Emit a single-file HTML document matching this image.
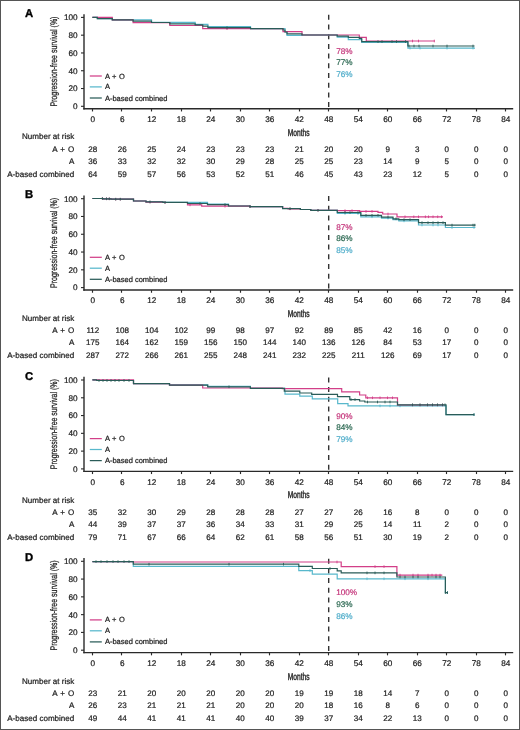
<!DOCTYPE html>
<html><head><meta charset="utf-8"><style>
html,body{margin:0;padding:0;background:#fff;width:520px;height:730px;overflow:hidden;}
svg{display:block;filter:blur(0.3px);} text{text-rendering:geometricPrecision;} .t{stroke:#222;stroke-width:0.22px;}
</style></head><body>
<svg width="520" height="730" viewBox="0 0 520 730" font-family='"Liberation Sans", sans-serif'>
<rect x="0" y="0" width="520" height="730" fill="#fff"/>
<g transform="translate(0,0)">
<text x="24.9" y="17.1" font-size="11.3" font-weight="bold" fill="#000" stroke="#000" stroke-width="0.35">A</text>
<text transform="translate(57.3,61.6) rotate(-90) scale(0.728,1)" text-anchor="middle" font-size="9.6" fill="#222" stroke="#222" stroke-width="0.25">Progression-free survival (%)</text>
<line x1="84" y1="14.2" x2="84" y2="109.45" stroke="#2a2a2a" stroke-width="1.4"/>
<line x1="81" y1="17.40" x2="84" y2="17.40" stroke="#2a2a2a" stroke-width="1.1"/>
<text x="77.6" y="20.30" text-anchor="end" font-size="8.2" class="t" fill="#222">100</text>
<line x1="81" y1="35.18" x2="84" y2="35.18" stroke="#2a2a2a" stroke-width="1.1"/>
<text x="77.6" y="38.08" text-anchor="end" font-size="8.2" class="t" fill="#222">80</text>
<line x1="81" y1="52.96" x2="84" y2="52.96" stroke="#2a2a2a" stroke-width="1.1"/>
<text x="77.6" y="55.86" text-anchor="end" font-size="8.2" class="t" fill="#222">60</text>
<line x1="81" y1="70.74" x2="84" y2="70.74" stroke="#2a2a2a" stroke-width="1.1"/>
<text x="77.6" y="73.64" text-anchor="end" font-size="8.2" class="t" fill="#222">40</text>
<line x1="81" y1="88.52" x2="84" y2="88.52" stroke="#2a2a2a" stroke-width="1.1"/>
<text x="77.6" y="91.42" text-anchor="end" font-size="8.2" class="t" fill="#222">20</text>
<line x1="81" y1="106.30" x2="84" y2="106.30" stroke="#2a2a2a" stroke-width="1.1"/>
<text x="77.6" y="109.20" text-anchor="end" font-size="8.2" class="t" fill="#222">0</text>
<line x1="83.3" y1="108.75" x2="513.2" y2="108.75" stroke="#2a2a2a" stroke-width="1.4"/>
<line x1="92.50" y1="108.75" x2="92.50" y2="111.45" stroke="#2a2a2a" stroke-width="1.15"/>
<text x="92.80" y="122.0" text-anchor="middle" font-size="8.2" class="t" fill="#222">0</text>
<line x1="121.50" y1="108.75" x2="121.50" y2="111.45" stroke="#2a2a2a" stroke-width="1.15"/>
<text x="122.29" y="122.0" text-anchor="middle" font-size="8.2" class="t" fill="#222">6</text>
<line x1="151.50" y1="108.75" x2="151.50" y2="111.45" stroke="#2a2a2a" stroke-width="1.15"/>
<text x="151.79" y="122.0" text-anchor="middle" font-size="8.2" class="t" fill="#222">12</text>
<line x1="181.50" y1="108.75" x2="181.50" y2="111.45" stroke="#2a2a2a" stroke-width="1.15"/>
<text x="181.28" y="122.0" text-anchor="middle" font-size="8.2" class="t" fill="#222">18</text>
<line x1="210.50" y1="108.75" x2="210.50" y2="111.45" stroke="#2a2a2a" stroke-width="1.15"/>
<text x="210.78" y="122.0" text-anchor="middle" font-size="8.2" class="t" fill="#222">24</text>
<line x1="240.50" y1="108.75" x2="240.50" y2="111.45" stroke="#2a2a2a" stroke-width="1.15"/>
<text x="240.27" y="122.0" text-anchor="middle" font-size="8.2" class="t" fill="#222">30</text>
<line x1="269.50" y1="108.75" x2="269.50" y2="111.45" stroke="#2a2a2a" stroke-width="1.15"/>
<text x="269.76" y="122.0" text-anchor="middle" font-size="8.2" class="t" fill="#222">36</text>
<line x1="299.50" y1="108.75" x2="299.50" y2="111.45" stroke="#2a2a2a" stroke-width="1.15"/>
<text x="299.26" y="122.0" text-anchor="middle" font-size="8.2" class="t" fill="#222">42</text>
<line x1="328.50" y1="108.75" x2="328.50" y2="111.45" stroke="#2a2a2a" stroke-width="1.15"/>
<text x="328.75" y="122.0" text-anchor="middle" font-size="8.2" class="t" fill="#222">48</text>
<line x1="358.50" y1="108.75" x2="358.50" y2="111.45" stroke="#2a2a2a" stroke-width="1.15"/>
<text x="358.25" y="122.0" text-anchor="middle" font-size="8.2" class="t" fill="#222">54</text>
<line x1="387.50" y1="108.75" x2="387.50" y2="111.45" stroke="#2a2a2a" stroke-width="1.15"/>
<text x="387.74" y="122.0" text-anchor="middle" font-size="8.2" class="t" fill="#222">60</text>
<line x1="417.50" y1="108.75" x2="417.50" y2="111.45" stroke="#2a2a2a" stroke-width="1.15"/>
<text x="417.23" y="122.0" text-anchor="middle" font-size="8.2" class="t" fill="#222">66</text>
<line x1="446.50" y1="108.75" x2="446.50" y2="111.45" stroke="#2a2a2a" stroke-width="1.15"/>
<text x="446.73" y="122.0" text-anchor="middle" font-size="8.2" class="t" fill="#222">72</text>
<line x1="476.50" y1="108.75" x2="476.50" y2="111.45" stroke="#2a2a2a" stroke-width="1.15"/>
<text x="476.22" y="122.0" text-anchor="middle" font-size="8.2" class="t" fill="#222">78</text>
<line x1="505.50" y1="108.75" x2="505.50" y2="111.45" stroke="#2a2a2a" stroke-width="1.15"/>
<text x="505.72" y="122.0" text-anchor="middle" font-size="8.2" class="t" fill="#222">84</text>
<text transform="translate(298.6,135.8) scale(0.665,1)" text-anchor="middle" font-size="10" fill="#222" stroke="#222" stroke-width="0.4">Months</text>
<line x1="328.69" y1="14.8" x2="328.69" y2="108.75" stroke="#333" stroke-width="1.4" stroke-dasharray="5 4.7"/>
<line x1="89.8" y1="76.0" x2="101.8" y2="76.0" stroke="#d23f88" stroke-width="1.25"/>
<text x="104.9" y="78.5" font-size="7.5" class="t" fill="#222" word-spacing="0.5">A + O</text>
<line x1="89.8" y1="86.9" x2="101.8" y2="86.9" stroke="#58b8cc" stroke-width="1.25"/>
<text x="104.9" y="89.4" font-size="7.5" class="t" fill="#222">A</text>
<line x1="89.8" y1="98.0" x2="101.8" y2="98.0" stroke="#2a5c58" stroke-width="1.25"/>
<text x="104.9" y="100.5" font-size="7.5" class="t" fill="#222">A-based combined</text>
<text x="336.2" y="53.9" font-size="8.2" fill="#c4347a" stroke="#c4347a" stroke-width="0.2">78%</text>
<text x="336.2" y="64.9" font-size="8.2" fill="#28664f" stroke="#28664f" stroke-width="0.2">77%</text>
<text x="336.2" y="76.7" font-size="8.2" fill="#4fadca" stroke="#4fadca" stroke-width="0.2">76%</text>
<path d="M92.4 17.4 H97.3 V18.6 H112.3 V19.8 H151.5 V22.4 H195.2 V24.3 H207.9 V26.6 H250.5 V28.6 H285.0 V32.0 H287.0 V35.3 H302.0 V35.0 H337.2 V37.2 H348.3 V39.6 H361.7 V42.3 H407.9 V48.1 H475.0" fill="none" stroke="#58b8cc" stroke-width="1.2"/>
<path d="M410.0 46.8 v2.6M420.0 46.8 v2.6M447.0 46.8 v2.6M473.0 46.8 v2.6" stroke="#58b8cc" stroke-width="0.9" fill="none"/>
<path d="M92.4 17.4 H112.3 V19.8 H133.1 V22.7 H169.8 V25.5 H202.7 V28.7 H283.0 V31.7 H302.0 V35.0 H359.3 V37.4 H366.3 V41.0 H434.6" fill="none" stroke="#d23f88" stroke-width="1.2"/>
<path d="M227.0 27.4 v2.6M412.5 39.7 v2.6M418.5 39.7 v2.6M434.3 39.7 v2.6" stroke="#d23f88" stroke-width="0.9" fill="none"/>
<path d="M92.4 17.4 H97.3 V18.6 H112.3 V19.8 H133.1 V21.2 H151.5 V22.5 H169.8 V23.8 H195.2 V24.9 H202.7 V26.2 H207.9 V27.7 H250.5 V28.6 H283.0 V30.0 H285.0 V32.0 H287.0 V33.8 H302.0 V35.0 H337.2 V36.2 H348.3 V37.3 H359.3 V38.4 H361.7 V41.6 H407.9 V46.0 H474.6" fill="none" stroke="#2a5c58" stroke-width="1.2"/>
<path d="M227.0 26.4 v2.6M378.0 40.3 v2.6M382.0 40.3 v2.6M392.0 40.3 v2.6M396.5 40.3 v2.6M405.5 40.3 v2.6M409.0 44.7 v2.6M414.0 44.7 v2.6M419.0 44.7 v2.6M433.0 44.7 v2.6M447.0 44.7 v2.6M473.0 44.7 v2.6" stroke="#2a5c58" stroke-width="0.9" fill="none"/>
</g>
<g transform="translate(0,0)">
<text x="74.3" y="139.3" text-anchor="end" font-size="8.05" class="t" fill="#222">Number at risk</text>
<text x="74.3" y="151.6" text-anchor="end" font-size="8.05" class="t" fill="#222" word-spacing="0.8">A + O</text>
<text x="92.80" y="151.6" text-anchor="middle" font-size="8.05" class="t" fill="#222">28</text>
<text x="122.29" y="151.6" text-anchor="middle" font-size="8.05" class="t" fill="#222">26</text>
<text x="151.79" y="151.6" text-anchor="middle" font-size="8.05" class="t" fill="#222">25</text>
<text x="181.28" y="151.6" text-anchor="middle" font-size="8.05" class="t" fill="#222">24</text>
<text x="210.78" y="151.6" text-anchor="middle" font-size="8.05" class="t" fill="#222">23</text>
<text x="240.27" y="151.6" text-anchor="middle" font-size="8.05" class="t" fill="#222">23</text>
<text x="269.76" y="151.6" text-anchor="middle" font-size="8.05" class="t" fill="#222">23</text>
<text x="299.26" y="151.6" text-anchor="middle" font-size="8.05" class="t" fill="#222">21</text>
<text x="328.75" y="151.6" text-anchor="middle" font-size="8.05" class="t" fill="#222">20</text>
<text x="358.25" y="151.6" text-anchor="middle" font-size="8.05" class="t" fill="#222">20</text>
<text x="387.74" y="151.6" text-anchor="middle" font-size="8.05" class="t" fill="#222">9</text>
<text x="417.23" y="151.6" text-anchor="middle" font-size="8.05" class="t" fill="#222">3</text>
<text x="446.73" y="151.6" text-anchor="middle" font-size="8.05" class="t" fill="#222">0</text>
<text x="476.22" y="151.6" text-anchor="middle" font-size="8.05" class="t" fill="#222">0</text>
<text x="505.72" y="151.6" text-anchor="middle" font-size="8.05" class="t" fill="#222">0</text>
<text x="74.3" y="164.0" text-anchor="end" font-size="8.05" class="t" fill="#222">A</text>
<text x="92.80" y="164.0" text-anchor="middle" font-size="8.05" class="t" fill="#222">36</text>
<text x="122.29" y="164.0" text-anchor="middle" font-size="8.05" class="t" fill="#222">33</text>
<text x="151.79" y="164.0" text-anchor="middle" font-size="8.05" class="t" fill="#222">32</text>
<text x="181.28" y="164.0" text-anchor="middle" font-size="8.05" class="t" fill="#222">32</text>
<text x="210.78" y="164.0" text-anchor="middle" font-size="8.05" class="t" fill="#222">30</text>
<text x="240.27" y="164.0" text-anchor="middle" font-size="8.05" class="t" fill="#222">29</text>
<text x="269.76" y="164.0" text-anchor="middle" font-size="8.05" class="t" fill="#222">28</text>
<text x="299.26" y="164.0" text-anchor="middle" font-size="8.05" class="t" fill="#222">25</text>
<text x="328.75" y="164.0" text-anchor="middle" font-size="8.05" class="t" fill="#222">25</text>
<text x="358.25" y="164.0" text-anchor="middle" font-size="8.05" class="t" fill="#222">23</text>
<text x="387.74" y="164.0" text-anchor="middle" font-size="8.05" class="t" fill="#222">14</text>
<text x="417.23" y="164.0" text-anchor="middle" font-size="8.05" class="t" fill="#222">9</text>
<text x="446.73" y="164.0" text-anchor="middle" font-size="8.05" class="t" fill="#222">5</text>
<text x="476.22" y="164.0" text-anchor="middle" font-size="8.05" class="t" fill="#222">0</text>
<text x="505.72" y="164.0" text-anchor="middle" font-size="8.05" class="t" fill="#222">0</text>
<text x="74.3" y="176.5" text-anchor="end" font-size="8.05" class="t" fill="#222">A-based combined</text>
<text x="92.80" y="176.5" text-anchor="middle" font-size="8.05" class="t" fill="#222">64</text>
<text x="122.29" y="176.5" text-anchor="middle" font-size="8.05" class="t" fill="#222">59</text>
<text x="151.79" y="176.5" text-anchor="middle" font-size="8.05" class="t" fill="#222">57</text>
<text x="181.28" y="176.5" text-anchor="middle" font-size="8.05" class="t" fill="#222">56</text>
<text x="210.78" y="176.5" text-anchor="middle" font-size="8.05" class="t" fill="#222">53</text>
<text x="240.27" y="176.5" text-anchor="middle" font-size="8.05" class="t" fill="#222">52</text>
<text x="269.76" y="176.5" text-anchor="middle" font-size="8.05" class="t" fill="#222">51</text>
<text x="299.26" y="176.5" text-anchor="middle" font-size="8.05" class="t" fill="#222">46</text>
<text x="328.75" y="176.5" text-anchor="middle" font-size="8.05" class="t" fill="#222">45</text>
<text x="358.25" y="176.5" text-anchor="middle" font-size="8.05" class="t" fill="#222">43</text>
<text x="387.74" y="176.5" text-anchor="middle" font-size="8.05" class="t" fill="#222">23</text>
<text x="417.23" y="176.5" text-anchor="middle" font-size="8.05" class="t" fill="#222">12</text>
<text x="446.73" y="176.5" text-anchor="middle" font-size="8.05" class="t" fill="#222">5</text>
<text x="476.22" y="176.5" text-anchor="middle" font-size="8.05" class="t" fill="#222">0</text>
<text x="505.72" y="176.5" text-anchor="middle" font-size="8.05" class="t" fill="#222">0</text>
</g>
<g transform="translate(0,181.3)">
<text x="24.9" y="17.1" font-size="11.3" font-weight="bold" fill="#000" stroke="#000" stroke-width="0.35">B</text>
<text transform="translate(57.3,61.6) rotate(-90) scale(0.728,1)" text-anchor="middle" font-size="9.6" fill="#222" stroke="#222" stroke-width="0.25">Progression-free survival (%)</text>
<line x1="84" y1="14.2" x2="84" y2="109.45" stroke="#2a2a2a" stroke-width="1.4"/>
<line x1="81" y1="17.40" x2="84" y2="17.40" stroke="#2a2a2a" stroke-width="1.1"/>
<text x="77.6" y="20.30" text-anchor="end" font-size="8.2" class="t" fill="#222">100</text>
<line x1="81" y1="35.18" x2="84" y2="35.18" stroke="#2a2a2a" stroke-width="1.1"/>
<text x="77.6" y="38.08" text-anchor="end" font-size="8.2" class="t" fill="#222">80</text>
<line x1="81" y1="52.96" x2="84" y2="52.96" stroke="#2a2a2a" stroke-width="1.1"/>
<text x="77.6" y="55.86" text-anchor="end" font-size="8.2" class="t" fill="#222">60</text>
<line x1="81" y1="70.74" x2="84" y2="70.74" stroke="#2a2a2a" stroke-width="1.1"/>
<text x="77.6" y="73.64" text-anchor="end" font-size="8.2" class="t" fill="#222">40</text>
<line x1="81" y1="88.52" x2="84" y2="88.52" stroke="#2a2a2a" stroke-width="1.1"/>
<text x="77.6" y="91.42" text-anchor="end" font-size="8.2" class="t" fill="#222">20</text>
<line x1="81" y1="106.30" x2="84" y2="106.30" stroke="#2a2a2a" stroke-width="1.1"/>
<text x="77.6" y="109.20" text-anchor="end" font-size="8.2" class="t" fill="#222">0</text>
<line x1="83.3" y1="108.75" x2="513.2" y2="108.75" stroke="#2a2a2a" stroke-width="1.4"/>
<line x1="92.50" y1="108.75" x2="92.50" y2="111.45" stroke="#2a2a2a" stroke-width="1.15"/>
<text x="92.80" y="122.0" text-anchor="middle" font-size="8.2" class="t" fill="#222">0</text>
<line x1="121.50" y1="108.75" x2="121.50" y2="111.45" stroke="#2a2a2a" stroke-width="1.15"/>
<text x="122.29" y="122.0" text-anchor="middle" font-size="8.2" class="t" fill="#222">6</text>
<line x1="151.50" y1="108.75" x2="151.50" y2="111.45" stroke="#2a2a2a" stroke-width="1.15"/>
<text x="151.79" y="122.0" text-anchor="middle" font-size="8.2" class="t" fill="#222">12</text>
<line x1="181.50" y1="108.75" x2="181.50" y2="111.45" stroke="#2a2a2a" stroke-width="1.15"/>
<text x="181.28" y="122.0" text-anchor="middle" font-size="8.2" class="t" fill="#222">18</text>
<line x1="210.50" y1="108.75" x2="210.50" y2="111.45" stroke="#2a2a2a" stroke-width="1.15"/>
<text x="210.78" y="122.0" text-anchor="middle" font-size="8.2" class="t" fill="#222">24</text>
<line x1="240.50" y1="108.75" x2="240.50" y2="111.45" stroke="#2a2a2a" stroke-width="1.15"/>
<text x="240.27" y="122.0" text-anchor="middle" font-size="8.2" class="t" fill="#222">30</text>
<line x1="269.50" y1="108.75" x2="269.50" y2="111.45" stroke="#2a2a2a" stroke-width="1.15"/>
<text x="269.76" y="122.0" text-anchor="middle" font-size="8.2" class="t" fill="#222">36</text>
<line x1="299.50" y1="108.75" x2="299.50" y2="111.45" stroke="#2a2a2a" stroke-width="1.15"/>
<text x="299.26" y="122.0" text-anchor="middle" font-size="8.2" class="t" fill="#222">42</text>
<line x1="328.50" y1="108.75" x2="328.50" y2="111.45" stroke="#2a2a2a" stroke-width="1.15"/>
<text x="328.75" y="122.0" text-anchor="middle" font-size="8.2" class="t" fill="#222">48</text>
<line x1="358.50" y1="108.75" x2="358.50" y2="111.45" stroke="#2a2a2a" stroke-width="1.15"/>
<text x="358.25" y="122.0" text-anchor="middle" font-size="8.2" class="t" fill="#222">54</text>
<line x1="387.50" y1="108.75" x2="387.50" y2="111.45" stroke="#2a2a2a" stroke-width="1.15"/>
<text x="387.74" y="122.0" text-anchor="middle" font-size="8.2" class="t" fill="#222">60</text>
<line x1="417.50" y1="108.75" x2="417.50" y2="111.45" stroke="#2a2a2a" stroke-width="1.15"/>
<text x="417.23" y="122.0" text-anchor="middle" font-size="8.2" class="t" fill="#222">66</text>
<line x1="446.50" y1="108.75" x2="446.50" y2="111.45" stroke="#2a2a2a" stroke-width="1.15"/>
<text x="446.73" y="122.0" text-anchor="middle" font-size="8.2" class="t" fill="#222">72</text>
<line x1="476.50" y1="108.75" x2="476.50" y2="111.45" stroke="#2a2a2a" stroke-width="1.15"/>
<text x="476.22" y="122.0" text-anchor="middle" font-size="8.2" class="t" fill="#222">78</text>
<line x1="505.50" y1="108.75" x2="505.50" y2="111.45" stroke="#2a2a2a" stroke-width="1.15"/>
<text x="505.72" y="122.0" text-anchor="middle" font-size="8.2" class="t" fill="#222">84</text>
<text transform="translate(298.6,135.8) scale(0.665,1)" text-anchor="middle" font-size="10" fill="#222" stroke="#222" stroke-width="0.4">Months</text>
<line x1="328.69" y1="14.8" x2="328.69" y2="108.75" stroke="#333" stroke-width="1.4" stroke-dasharray="5 4.7"/>
<line x1="89.8" y1="76.0" x2="101.8" y2="76.0" stroke="#d23f88" stroke-width="1.25"/>
<text x="104.9" y="78.5" font-size="7.5" class="t" fill="#222" word-spacing="0.5">A + O</text>
<line x1="89.8" y1="86.9" x2="101.8" y2="86.9" stroke="#58b8cc" stroke-width="1.25"/>
<text x="104.9" y="89.4" font-size="7.5" class="t" fill="#222">A</text>
<line x1="89.8" y1="98.0" x2="101.8" y2="98.0" stroke="#2a5c58" stroke-width="1.25"/>
<text x="104.9" y="100.5" font-size="7.5" class="t" fill="#222">A-based combined</text>
<text x="336.2" y="48.5" font-size="8.2" fill="#c4347a" stroke="#c4347a" stroke-width="0.2">87%</text>
<text x="336.2" y="59.7" font-size="8.2" fill="#28664f" stroke="#28664f" stroke-width="0.2">86%</text>
<text x="336.2" y="71.6" font-size="8.2" fill="#4fadca" stroke="#4fadca" stroke-width="0.2">85%</text>
<path d="M92.4 17.2 H103.0 V17.5 H111.0 V17.9 H133.5 V19.7 H146.0 V20.5 H163.0 V21.0 H207.5 V22.9 H228.5 V24.7 H250.0 V25.4 H282.6 V27.2 H300.4 V28.2 H310.8 V29.0 H337.3 V32.1 H360.8 V35.5 H381.5 V36.8 H393.0 V38.4 H398.8 V39.6 H418.5 V43.7 H445.4 V46.2 H475.4" fill="none" stroke="#58b8cc" stroke-width="1.2"/>
<path d="M345.0 30.8 v2.6M358.0 30.8 v2.6M372.0 34.2 v2.6M388.0 35.5 v2.6M404.0 38.3 v2.6M422.0 42.4 v2.6M433.0 42.4 v2.6M438.0 42.4 v2.6M452.0 44.9 v2.6M474.0 44.9 v2.6" stroke="#58b8cc" stroke-width="0.9" fill="none"/>
<path d="M92.4 17.2 H103.0 V17.5 H111.0 V17.9 H133.5 V19.7 H146.0 V20.8 H163.0 V21.2 H187.5 V23.6 H201.7 V24.9 H250.0 V25.4 H282.6 V27.0 H288.0 V27.5 H300.4 V28.2 H310.8 V29.0 H337.3 V29.4 H359.6 V30.1 H378.0 V31.1 H382.7 V32.7 H397.0 V35.5 H443.0" fill="none" stroke="#d23f88" stroke-width="1.2"/>
<path d="M102.4 15.9 v2.6M106.5 16.2 v2.6M109.3 16.2 v2.6M115.7 16.6 v2.6M120.3 16.6 v2.6M150.0 19.5 v2.6M165.0 19.9 v2.6M190.0 22.3 v2.6M225.0 23.6 v2.6M250.0 24.1 v2.6M290.0 26.2 v2.6M318.0 27.7 v2.6M345.0 28.1 v2.6M352.0 28.1 v2.6M366.0 28.8 v2.6M372.0 28.8 v2.6M388.0 31.4 v2.6M405.0 34.2 v2.6M413.8 34.2 v2.6M418.5 34.2 v2.6M425.4 34.2 v2.6M428.5 34.2 v2.6M433.0 34.2 v2.6M437.7 34.2 v2.6M441.5 34.2 v2.6" stroke="#d23f88" stroke-width="0.9" fill="none"/>
<path d="M92.4 17.2 H103.0 V17.5 H111.0 V17.9 H133.5 V19.7 H146.0 V20.6 H163.0 V21.1 H187.5 V22.2 H207.5 V23.3 H228.5 V24.7 H250.0 V25.4 H282.6 V27.4 H300.4 V28.2 H310.8 V29.0 H337.3 V31.2 H360.8 V34.0 H381.5 V35.8 H393.0 V37.5 H398.8 V38.4 H418.5 V41.4 H445.4 V43.8 H475.4" fill="none" stroke="#2a5c58" stroke-width="1.2"/>
<path d="M102.4 15.9 v2.6M106.5 16.2 v2.6M109.3 16.2 v2.6M115.7 16.6 v2.6M120.3 16.6 v2.6M150.0 19.3 v2.6M165.0 19.8 v2.6M200.0 20.9 v2.6M225.0 22.0 v2.6M250.0 24.1 v2.6M290.0 26.1 v2.6M318.0 27.7 v2.6M345.0 29.9 v2.6M350.0 29.9 v2.6M358.0 29.9 v2.6M366.0 32.7 v2.6M372.0 32.7 v2.6M378.0 32.7 v2.6M388.0 34.5 v2.6M396.0 36.2 v2.6M404.0 37.1 v2.6M410.0 37.1 v2.6M422.0 40.1 v2.6M428.0 40.1 v2.6M433.0 40.1 v2.6M438.0 40.1 v2.6M443.0 40.1 v2.6M452.0 42.5 v2.6M473.0 42.5 v2.6M474.8 42.5 v2.6" stroke="#2a5c58" stroke-width="0.9" fill="none"/>
</g>
<g transform="translate(0,181.4)">
<text x="74.3" y="139.3" text-anchor="end" font-size="8.05" class="t" fill="#222">Number at risk</text>
<text x="74.3" y="151.6" text-anchor="end" font-size="8.05" class="t" fill="#222" word-spacing="0.8">A + O</text>
<text x="92.80" y="151.6" text-anchor="middle" font-size="8.05" class="t" fill="#222">112</text>
<text x="122.29" y="151.6" text-anchor="middle" font-size="8.05" class="t" fill="#222">108</text>
<text x="151.79" y="151.6" text-anchor="middle" font-size="8.05" class="t" fill="#222">104</text>
<text x="181.28" y="151.6" text-anchor="middle" font-size="8.05" class="t" fill="#222">102</text>
<text x="210.78" y="151.6" text-anchor="middle" font-size="8.05" class="t" fill="#222">99</text>
<text x="240.27" y="151.6" text-anchor="middle" font-size="8.05" class="t" fill="#222">98</text>
<text x="269.76" y="151.6" text-anchor="middle" font-size="8.05" class="t" fill="#222">97</text>
<text x="299.26" y="151.6" text-anchor="middle" font-size="8.05" class="t" fill="#222">92</text>
<text x="328.75" y="151.6" text-anchor="middle" font-size="8.05" class="t" fill="#222">89</text>
<text x="358.25" y="151.6" text-anchor="middle" font-size="8.05" class="t" fill="#222">85</text>
<text x="387.74" y="151.6" text-anchor="middle" font-size="8.05" class="t" fill="#222">42</text>
<text x="417.23" y="151.6" text-anchor="middle" font-size="8.05" class="t" fill="#222">16</text>
<text x="446.73" y="151.6" text-anchor="middle" font-size="8.05" class="t" fill="#222">0</text>
<text x="476.22" y="151.6" text-anchor="middle" font-size="8.05" class="t" fill="#222">0</text>
<text x="505.72" y="151.6" text-anchor="middle" font-size="8.05" class="t" fill="#222">0</text>
<text x="74.3" y="164.0" text-anchor="end" font-size="8.05" class="t" fill="#222">A</text>
<text x="92.80" y="164.0" text-anchor="middle" font-size="8.05" class="t" fill="#222">175</text>
<text x="122.29" y="164.0" text-anchor="middle" font-size="8.05" class="t" fill="#222">164</text>
<text x="151.79" y="164.0" text-anchor="middle" font-size="8.05" class="t" fill="#222">162</text>
<text x="181.28" y="164.0" text-anchor="middle" font-size="8.05" class="t" fill="#222">159</text>
<text x="210.78" y="164.0" text-anchor="middle" font-size="8.05" class="t" fill="#222">156</text>
<text x="240.27" y="164.0" text-anchor="middle" font-size="8.05" class="t" fill="#222">150</text>
<text x="269.76" y="164.0" text-anchor="middle" font-size="8.05" class="t" fill="#222">144</text>
<text x="299.26" y="164.0" text-anchor="middle" font-size="8.05" class="t" fill="#222">140</text>
<text x="328.75" y="164.0" text-anchor="middle" font-size="8.05" class="t" fill="#222">136</text>
<text x="358.25" y="164.0" text-anchor="middle" font-size="8.05" class="t" fill="#222">126</text>
<text x="387.74" y="164.0" text-anchor="middle" font-size="8.05" class="t" fill="#222">84</text>
<text x="417.23" y="164.0" text-anchor="middle" font-size="8.05" class="t" fill="#222">53</text>
<text x="446.73" y="164.0" text-anchor="middle" font-size="8.05" class="t" fill="#222">17</text>
<text x="476.22" y="164.0" text-anchor="middle" font-size="8.05" class="t" fill="#222">0</text>
<text x="505.72" y="164.0" text-anchor="middle" font-size="8.05" class="t" fill="#222">0</text>
<text x="74.3" y="176.5" text-anchor="end" font-size="8.05" class="t" fill="#222">A-based combined</text>
<text x="92.80" y="176.5" text-anchor="middle" font-size="8.05" class="t" fill="#222">287</text>
<text x="122.29" y="176.5" text-anchor="middle" font-size="8.05" class="t" fill="#222">272</text>
<text x="151.79" y="176.5" text-anchor="middle" font-size="8.05" class="t" fill="#222">266</text>
<text x="181.28" y="176.5" text-anchor="middle" font-size="8.05" class="t" fill="#222">261</text>
<text x="210.78" y="176.5" text-anchor="middle" font-size="8.05" class="t" fill="#222">255</text>
<text x="240.27" y="176.5" text-anchor="middle" font-size="8.05" class="t" fill="#222">248</text>
<text x="269.76" y="176.5" text-anchor="middle" font-size="8.05" class="t" fill="#222">241</text>
<text x="299.26" y="176.5" text-anchor="middle" font-size="8.05" class="t" fill="#222">232</text>
<text x="328.75" y="176.5" text-anchor="middle" font-size="8.05" class="t" fill="#222">225</text>
<text x="358.25" y="176.5" text-anchor="middle" font-size="8.05" class="t" fill="#222">211</text>
<text x="387.74" y="176.5" text-anchor="middle" font-size="8.05" class="t" fill="#222">126</text>
<text x="417.23" y="176.5" text-anchor="middle" font-size="8.05" class="t" fill="#222">69</text>
<text x="446.73" y="176.5" text-anchor="middle" font-size="8.05" class="t" fill="#222">17</text>
<text x="476.22" y="176.5" text-anchor="middle" font-size="8.05" class="t" fill="#222">0</text>
<text x="505.72" y="176.5" text-anchor="middle" font-size="8.05" class="t" fill="#222">0</text>
</g>
<g transform="translate(0,362.6)">
<text x="24.9" y="17.1" font-size="11.3" font-weight="bold" fill="#000" stroke="#000" stroke-width="0.35">C</text>
<text transform="translate(57.3,61.6) rotate(-90) scale(0.728,1)" text-anchor="middle" font-size="9.6" fill="#222" stroke="#222" stroke-width="0.25">Progression-free survival (%)</text>
<line x1="84" y1="14.2" x2="84" y2="109.45" stroke="#2a2a2a" stroke-width="1.4"/>
<line x1="81" y1="17.40" x2="84" y2="17.40" stroke="#2a2a2a" stroke-width="1.1"/>
<text x="77.6" y="20.30" text-anchor="end" font-size="8.2" class="t" fill="#222">100</text>
<line x1="81" y1="35.18" x2="84" y2="35.18" stroke="#2a2a2a" stroke-width="1.1"/>
<text x="77.6" y="38.08" text-anchor="end" font-size="8.2" class="t" fill="#222">80</text>
<line x1="81" y1="52.96" x2="84" y2="52.96" stroke="#2a2a2a" stroke-width="1.1"/>
<text x="77.6" y="55.86" text-anchor="end" font-size="8.2" class="t" fill="#222">60</text>
<line x1="81" y1="70.74" x2="84" y2="70.74" stroke="#2a2a2a" stroke-width="1.1"/>
<text x="77.6" y="73.64" text-anchor="end" font-size="8.2" class="t" fill="#222">40</text>
<line x1="81" y1="88.52" x2="84" y2="88.52" stroke="#2a2a2a" stroke-width="1.1"/>
<text x="77.6" y="91.42" text-anchor="end" font-size="8.2" class="t" fill="#222">20</text>
<line x1="81" y1="106.30" x2="84" y2="106.30" stroke="#2a2a2a" stroke-width="1.1"/>
<text x="77.6" y="109.20" text-anchor="end" font-size="8.2" class="t" fill="#222">0</text>
<line x1="83.3" y1="108.75" x2="513.2" y2="108.75" stroke="#2a2a2a" stroke-width="1.4"/>
<line x1="92.50" y1="108.75" x2="92.50" y2="111.45" stroke="#2a2a2a" stroke-width="1.15"/>
<text x="92.80" y="122.0" text-anchor="middle" font-size="8.2" class="t" fill="#222">0</text>
<line x1="121.50" y1="108.75" x2="121.50" y2="111.45" stroke="#2a2a2a" stroke-width="1.15"/>
<text x="122.29" y="122.0" text-anchor="middle" font-size="8.2" class="t" fill="#222">6</text>
<line x1="151.50" y1="108.75" x2="151.50" y2="111.45" stroke="#2a2a2a" stroke-width="1.15"/>
<text x="151.79" y="122.0" text-anchor="middle" font-size="8.2" class="t" fill="#222">12</text>
<line x1="181.50" y1="108.75" x2="181.50" y2="111.45" stroke="#2a2a2a" stroke-width="1.15"/>
<text x="181.28" y="122.0" text-anchor="middle" font-size="8.2" class="t" fill="#222">18</text>
<line x1="210.50" y1="108.75" x2="210.50" y2="111.45" stroke="#2a2a2a" stroke-width="1.15"/>
<text x="210.78" y="122.0" text-anchor="middle" font-size="8.2" class="t" fill="#222">24</text>
<line x1="240.50" y1="108.75" x2="240.50" y2="111.45" stroke="#2a2a2a" stroke-width="1.15"/>
<text x="240.27" y="122.0" text-anchor="middle" font-size="8.2" class="t" fill="#222">30</text>
<line x1="269.50" y1="108.75" x2="269.50" y2="111.45" stroke="#2a2a2a" stroke-width="1.15"/>
<text x="269.76" y="122.0" text-anchor="middle" font-size="8.2" class="t" fill="#222">36</text>
<line x1="299.50" y1="108.75" x2="299.50" y2="111.45" stroke="#2a2a2a" stroke-width="1.15"/>
<text x="299.26" y="122.0" text-anchor="middle" font-size="8.2" class="t" fill="#222">42</text>
<line x1="328.50" y1="108.75" x2="328.50" y2="111.45" stroke="#2a2a2a" stroke-width="1.15"/>
<text x="328.75" y="122.0" text-anchor="middle" font-size="8.2" class="t" fill="#222">48</text>
<line x1="358.50" y1="108.75" x2="358.50" y2="111.45" stroke="#2a2a2a" stroke-width="1.15"/>
<text x="358.25" y="122.0" text-anchor="middle" font-size="8.2" class="t" fill="#222">54</text>
<line x1="387.50" y1="108.75" x2="387.50" y2="111.45" stroke="#2a2a2a" stroke-width="1.15"/>
<text x="387.74" y="122.0" text-anchor="middle" font-size="8.2" class="t" fill="#222">60</text>
<line x1="417.50" y1="108.75" x2="417.50" y2="111.45" stroke="#2a2a2a" stroke-width="1.15"/>
<text x="417.23" y="122.0" text-anchor="middle" font-size="8.2" class="t" fill="#222">66</text>
<line x1="446.50" y1="108.75" x2="446.50" y2="111.45" stroke="#2a2a2a" stroke-width="1.15"/>
<text x="446.73" y="122.0" text-anchor="middle" font-size="8.2" class="t" fill="#222">72</text>
<line x1="476.50" y1="108.75" x2="476.50" y2="111.45" stroke="#2a2a2a" stroke-width="1.15"/>
<text x="476.22" y="122.0" text-anchor="middle" font-size="8.2" class="t" fill="#222">78</text>
<line x1="505.50" y1="108.75" x2="505.50" y2="111.45" stroke="#2a2a2a" stroke-width="1.15"/>
<text x="505.72" y="122.0" text-anchor="middle" font-size="8.2" class="t" fill="#222">84</text>
<text transform="translate(298.6,135.8) scale(0.665,1)" text-anchor="middle" font-size="10" fill="#222" stroke="#222" stroke-width="0.4">Months</text>
<line x1="328.69" y1="14.8" x2="328.69" y2="108.75" stroke="#333" stroke-width="1.4" stroke-dasharray="5 4.7"/>
<line x1="89.8" y1="76.0" x2="101.8" y2="76.0" stroke="#d23f88" stroke-width="1.25"/>
<text x="104.9" y="78.5" font-size="7.5" class="t" fill="#222" word-spacing="0.5">A + O</text>
<line x1="89.8" y1="86.9" x2="101.8" y2="86.9" stroke="#58b8cc" stroke-width="1.25"/>
<text x="104.9" y="89.4" font-size="7.5" class="t" fill="#222">A</text>
<line x1="89.8" y1="98.0" x2="101.8" y2="98.0" stroke="#2a5c58" stroke-width="1.25"/>
<text x="104.9" y="100.5" font-size="7.5" class="t" fill="#222">A-based combined</text>
<text x="336.2" y="56.1" font-size="8.2" fill="#c4347a" stroke="#c4347a" stroke-width="0.2">90%</text>
<text x="336.2" y="67.6" font-size="8.2" fill="#28664f" stroke="#28664f" stroke-width="0.2">84%</text>
<text x="336.2" y="79.1" font-size="8.2" fill="#4fadca" stroke="#4fadca" stroke-width="0.2">79%</text>
<path d="M92.4 17.2 H96.7 V17.9 H133.5 V21.0 H169.5 V22.2 H207.7 V23.7 H250.4 V25.7 H285.0 V31.5 H299.8 V33.5 H312.3 V36.2 H337.7 V41.0 H348.0 V43.3 H446.0 V52.0 H474.2" fill="none" stroke="#58b8cc" stroke-width="1.2"/>
<path d="M380.0 42.0 v2.6M390.0 42.0 v2.6M400.0 42.0 v2.6M474.0 50.7 v2.6" stroke="#58b8cc" stroke-width="0.9" fill="none"/>
<path d="M92.4 17.2 H133.5 V21.0 H169.5 V22.6 H202.7 V25.4 H282.3 V26.0 H341.7 V29.2 H359.6 V32.4 H365.8 V35.2 H397.5 V42.4 H444.0" fill="none" stroke="#d23f88" stroke-width="1.2"/>
<path d="M367.5 33.9 v2.6M372.5 33.9 v2.6M380.0 33.9 v2.6M387.5 33.9 v2.6M392.5 33.9 v2.6M412.5 41.1 v2.6M420.0 41.1 v2.6M427.5 41.1 v2.6M432.5 41.1 v2.6M437.5 41.1 v2.6M442.5 41.1 v2.6" stroke="#d23f88" stroke-width="0.9" fill="none"/>
<path d="M92.4 17.2 H96.7 V17.9 H133.5 V21.0 H169.5 V22.6 H207.7 V24.2 H250.4 V25.7 H284.3 V28.6 H299.8 V30.4 H311.7 V31.8 H337.5 V34.1 H349.8 V37.0 H359.6 V38.4 H364.8 V39.4 H397.5 V42.2 H446.0 V52.0 H474.2" fill="none" stroke="#2a5c58" stroke-width="1.2"/>
<path d="M99.0 16.6 v2.6M103.0 16.6 v2.6M107.0 16.6 v2.6M111.0 16.6 v2.6M115.0 16.6 v2.6M119.0 16.6 v2.6M124.0 16.6 v2.6M129.0 16.6 v2.6M229.0 22.9 v2.6M351.0 35.7 v2.6M355.0 35.7 v2.6M367.5 38.1 v2.6M377.5 38.1 v2.6M385.0 38.1 v2.6M390.0 38.1 v2.6M412.5 40.9 v2.6M420.0 40.9 v2.6M427.5 40.9 v2.6M432.5 40.9 v2.6M437.5 40.9 v2.6M442.5 40.9 v2.6M445.0 40.9 v2.6M474.0 50.7 v2.6" stroke="#2a5c58" stroke-width="0.9" fill="none"/>
</g>
<g transform="translate(0,363.4)">
<text x="74.3" y="139.3" text-anchor="end" font-size="8.05" class="t" fill="#222">Number at risk</text>
<text x="74.3" y="151.6" text-anchor="end" font-size="8.05" class="t" fill="#222" word-spacing="0.8">A + O</text>
<text x="92.80" y="151.6" text-anchor="middle" font-size="8.05" class="t" fill="#222">35</text>
<text x="122.29" y="151.6" text-anchor="middle" font-size="8.05" class="t" fill="#222">32</text>
<text x="151.79" y="151.6" text-anchor="middle" font-size="8.05" class="t" fill="#222">30</text>
<text x="181.28" y="151.6" text-anchor="middle" font-size="8.05" class="t" fill="#222">29</text>
<text x="210.78" y="151.6" text-anchor="middle" font-size="8.05" class="t" fill="#222">28</text>
<text x="240.27" y="151.6" text-anchor="middle" font-size="8.05" class="t" fill="#222">28</text>
<text x="269.76" y="151.6" text-anchor="middle" font-size="8.05" class="t" fill="#222">28</text>
<text x="299.26" y="151.6" text-anchor="middle" font-size="8.05" class="t" fill="#222">27</text>
<text x="328.75" y="151.6" text-anchor="middle" font-size="8.05" class="t" fill="#222">27</text>
<text x="358.25" y="151.6" text-anchor="middle" font-size="8.05" class="t" fill="#222">26</text>
<text x="387.74" y="151.6" text-anchor="middle" font-size="8.05" class="t" fill="#222">16</text>
<text x="417.23" y="151.6" text-anchor="middle" font-size="8.05" class="t" fill="#222">8</text>
<text x="446.73" y="151.6" text-anchor="middle" font-size="8.05" class="t" fill="#222">0</text>
<text x="476.22" y="151.6" text-anchor="middle" font-size="8.05" class="t" fill="#222">0</text>
<text x="505.72" y="151.6" text-anchor="middle" font-size="8.05" class="t" fill="#222">0</text>
<text x="74.3" y="164.0" text-anchor="end" font-size="8.05" class="t" fill="#222">A</text>
<text x="92.80" y="164.0" text-anchor="middle" font-size="8.05" class="t" fill="#222">44</text>
<text x="122.29" y="164.0" text-anchor="middle" font-size="8.05" class="t" fill="#222">39</text>
<text x="151.79" y="164.0" text-anchor="middle" font-size="8.05" class="t" fill="#222">37</text>
<text x="181.28" y="164.0" text-anchor="middle" font-size="8.05" class="t" fill="#222">37</text>
<text x="210.78" y="164.0" text-anchor="middle" font-size="8.05" class="t" fill="#222">36</text>
<text x="240.27" y="164.0" text-anchor="middle" font-size="8.05" class="t" fill="#222">34</text>
<text x="269.76" y="164.0" text-anchor="middle" font-size="8.05" class="t" fill="#222">33</text>
<text x="299.26" y="164.0" text-anchor="middle" font-size="8.05" class="t" fill="#222">31</text>
<text x="328.75" y="164.0" text-anchor="middle" font-size="8.05" class="t" fill="#222">29</text>
<text x="358.25" y="164.0" text-anchor="middle" font-size="8.05" class="t" fill="#222">25</text>
<text x="387.74" y="164.0" text-anchor="middle" font-size="8.05" class="t" fill="#222">14</text>
<text x="417.23" y="164.0" text-anchor="middle" font-size="8.05" class="t" fill="#222">11</text>
<text x="446.73" y="164.0" text-anchor="middle" font-size="8.05" class="t" fill="#222">2</text>
<text x="476.22" y="164.0" text-anchor="middle" font-size="8.05" class="t" fill="#222">0</text>
<text x="505.72" y="164.0" text-anchor="middle" font-size="8.05" class="t" fill="#222">0</text>
<text x="74.3" y="176.5" text-anchor="end" font-size="8.05" class="t" fill="#222">A-based combined</text>
<text x="92.80" y="176.5" text-anchor="middle" font-size="8.05" class="t" fill="#222">79</text>
<text x="122.29" y="176.5" text-anchor="middle" font-size="8.05" class="t" fill="#222">71</text>
<text x="151.79" y="176.5" text-anchor="middle" font-size="8.05" class="t" fill="#222">67</text>
<text x="181.28" y="176.5" text-anchor="middle" font-size="8.05" class="t" fill="#222">66</text>
<text x="210.78" y="176.5" text-anchor="middle" font-size="8.05" class="t" fill="#222">64</text>
<text x="240.27" y="176.5" text-anchor="middle" font-size="8.05" class="t" fill="#222">62</text>
<text x="269.76" y="176.5" text-anchor="middle" font-size="8.05" class="t" fill="#222">61</text>
<text x="299.26" y="176.5" text-anchor="middle" font-size="8.05" class="t" fill="#222">58</text>
<text x="328.75" y="176.5" text-anchor="middle" font-size="8.05" class="t" fill="#222">56</text>
<text x="358.25" y="176.5" text-anchor="middle" font-size="8.05" class="t" fill="#222">51</text>
<text x="387.74" y="176.5" text-anchor="middle" font-size="8.05" class="t" fill="#222">30</text>
<text x="417.23" y="176.5" text-anchor="middle" font-size="8.05" class="t" fill="#222">19</text>
<text x="446.73" y="176.5" text-anchor="middle" font-size="8.05" class="t" fill="#222">2</text>
<text x="476.22" y="176.5" text-anchor="middle" font-size="8.05" class="t" fill="#222">0</text>
<text x="505.72" y="176.5" text-anchor="middle" font-size="8.05" class="t" fill="#222">0</text>
</g>
<g transform="translate(0,543.9)">
<text x="24.9" y="17.1" font-size="11.3" font-weight="bold" fill="#000" stroke="#000" stroke-width="0.35">D</text>
<text transform="translate(57.3,61.6) rotate(-90) scale(0.728,1)" text-anchor="middle" font-size="9.6" fill="#222" stroke="#222" stroke-width="0.25">Progression-free survival (%)</text>
<line x1="84" y1="14.2" x2="84" y2="109.45" stroke="#2a2a2a" stroke-width="1.4"/>
<line x1="81" y1="17.40" x2="84" y2="17.40" stroke="#2a2a2a" stroke-width="1.1"/>
<text x="77.6" y="20.30" text-anchor="end" font-size="8.2" class="t" fill="#222">100</text>
<line x1="81" y1="35.18" x2="84" y2="35.18" stroke="#2a2a2a" stroke-width="1.1"/>
<text x="77.6" y="38.08" text-anchor="end" font-size="8.2" class="t" fill="#222">80</text>
<line x1="81" y1="52.96" x2="84" y2="52.96" stroke="#2a2a2a" stroke-width="1.1"/>
<text x="77.6" y="55.86" text-anchor="end" font-size="8.2" class="t" fill="#222">60</text>
<line x1="81" y1="70.74" x2="84" y2="70.74" stroke="#2a2a2a" stroke-width="1.1"/>
<text x="77.6" y="73.64" text-anchor="end" font-size="8.2" class="t" fill="#222">40</text>
<line x1="81" y1="88.52" x2="84" y2="88.52" stroke="#2a2a2a" stroke-width="1.1"/>
<text x="77.6" y="91.42" text-anchor="end" font-size="8.2" class="t" fill="#222">20</text>
<line x1="81" y1="106.30" x2="84" y2="106.30" stroke="#2a2a2a" stroke-width="1.1"/>
<text x="77.6" y="109.20" text-anchor="end" font-size="8.2" class="t" fill="#222">0</text>
<line x1="83.3" y1="108.75" x2="513.2" y2="108.75" stroke="#2a2a2a" stroke-width="1.4"/>
<line x1="92.50" y1="108.75" x2="92.50" y2="111.45" stroke="#2a2a2a" stroke-width="1.15"/>
<text x="92.80" y="122.0" text-anchor="middle" font-size="8.2" class="t" fill="#222">0</text>
<line x1="121.50" y1="108.75" x2="121.50" y2="111.45" stroke="#2a2a2a" stroke-width="1.15"/>
<text x="122.29" y="122.0" text-anchor="middle" font-size="8.2" class="t" fill="#222">6</text>
<line x1="151.50" y1="108.75" x2="151.50" y2="111.45" stroke="#2a2a2a" stroke-width="1.15"/>
<text x="151.79" y="122.0" text-anchor="middle" font-size="8.2" class="t" fill="#222">12</text>
<line x1="181.50" y1="108.75" x2="181.50" y2="111.45" stroke="#2a2a2a" stroke-width="1.15"/>
<text x="181.28" y="122.0" text-anchor="middle" font-size="8.2" class="t" fill="#222">18</text>
<line x1="210.50" y1="108.75" x2="210.50" y2="111.45" stroke="#2a2a2a" stroke-width="1.15"/>
<text x="210.78" y="122.0" text-anchor="middle" font-size="8.2" class="t" fill="#222">24</text>
<line x1="240.50" y1="108.75" x2="240.50" y2="111.45" stroke="#2a2a2a" stroke-width="1.15"/>
<text x="240.27" y="122.0" text-anchor="middle" font-size="8.2" class="t" fill="#222">30</text>
<line x1="269.50" y1="108.75" x2="269.50" y2="111.45" stroke="#2a2a2a" stroke-width="1.15"/>
<text x="269.76" y="122.0" text-anchor="middle" font-size="8.2" class="t" fill="#222">36</text>
<line x1="299.50" y1="108.75" x2="299.50" y2="111.45" stroke="#2a2a2a" stroke-width="1.15"/>
<text x="299.26" y="122.0" text-anchor="middle" font-size="8.2" class="t" fill="#222">42</text>
<line x1="328.50" y1="108.75" x2="328.50" y2="111.45" stroke="#2a2a2a" stroke-width="1.15"/>
<text x="328.75" y="122.0" text-anchor="middle" font-size="8.2" class="t" fill="#222">48</text>
<line x1="358.50" y1="108.75" x2="358.50" y2="111.45" stroke="#2a2a2a" stroke-width="1.15"/>
<text x="358.25" y="122.0" text-anchor="middle" font-size="8.2" class="t" fill="#222">54</text>
<line x1="387.50" y1="108.75" x2="387.50" y2="111.45" stroke="#2a2a2a" stroke-width="1.15"/>
<text x="387.74" y="122.0" text-anchor="middle" font-size="8.2" class="t" fill="#222">60</text>
<line x1="417.50" y1="108.75" x2="417.50" y2="111.45" stroke="#2a2a2a" stroke-width="1.15"/>
<text x="417.23" y="122.0" text-anchor="middle" font-size="8.2" class="t" fill="#222">66</text>
<line x1="446.50" y1="108.75" x2="446.50" y2="111.45" stroke="#2a2a2a" stroke-width="1.15"/>
<text x="446.73" y="122.0" text-anchor="middle" font-size="8.2" class="t" fill="#222">72</text>
<line x1="476.50" y1="108.75" x2="476.50" y2="111.45" stroke="#2a2a2a" stroke-width="1.15"/>
<text x="476.22" y="122.0" text-anchor="middle" font-size="8.2" class="t" fill="#222">78</text>
<line x1="505.50" y1="108.75" x2="505.50" y2="111.45" stroke="#2a2a2a" stroke-width="1.15"/>
<text x="505.72" y="122.0" text-anchor="middle" font-size="8.2" class="t" fill="#222">84</text>
<text transform="translate(298.6,135.8) scale(0.665,1)" text-anchor="middle" font-size="10" fill="#222" stroke="#222" stroke-width="0.4">Months</text>
<line x1="328.69" y1="14.8" x2="328.69" y2="108.75" stroke="#333" stroke-width="1.4" stroke-dasharray="5 4.7"/>
<line x1="89.8" y1="76.0" x2="101.8" y2="76.0" stroke="#d23f88" stroke-width="1.25"/>
<text x="104.9" y="78.5" font-size="7.5" class="t" fill="#222" word-spacing="0.5">A + O</text>
<line x1="89.8" y1="86.9" x2="101.8" y2="86.9" stroke="#58b8cc" stroke-width="1.25"/>
<text x="104.9" y="89.4" font-size="7.5" class="t" fill="#222">A</text>
<line x1="89.8" y1="98.0" x2="101.8" y2="98.0" stroke="#2a5c58" stroke-width="1.25"/>
<text x="104.9" y="100.5" font-size="7.5" class="t" fill="#222">A-based combined</text>
<text x="336.2" y="51.5" font-size="8.2" fill="#c4347a" stroke="#c4347a" stroke-width="0.2">100%</text>
<text x="336.2" y="63.4" font-size="8.2" fill="#28664f" stroke="#28664f" stroke-width="0.2">93%</text>
<text x="336.2" y="74.8" font-size="8.2" fill="#4fadca" stroke="#4fadca" stroke-width="0.2">86%</text>
<path d="M92.4 17.7 H133.3 V22.5 H298.8 V26.7 H312.3 V30.3 H337.2 V34.9 H445.4 V48.7 H447.8" fill="none" stroke="#58b8cc" stroke-width="1.2"/>
<path d="M310.0 25.4 v2.6M367.0 33.6 v2.6M384.0 33.6 v2.6M405.0 33.6 v2.6M428.0 33.6 v2.6M447.5 47.4 v2.6" stroke="#58b8cc" stroke-width="0.9" fill="none"/>
<path d="M92.4 17.7 H133.3 V18.1 H341.2 V22.7 H396.9 V31.2 H442.3" fill="none" stroke="#d23f88" stroke-width="1.2"/>
<path d="M337.0 16.8 v2.6M375.0 21.4 v2.6M384.0 21.4 v2.6M400.0 29.9 v2.6M413.0 29.9 v2.6M418.0 29.9 v2.6M428.0 29.9 v2.6M432.0 29.9 v2.6M436.0 29.9 v2.6M440.0 29.9 v2.6" stroke="#d23f88" stroke-width="0.9" fill="none"/>
<path d="M92.4 17.7 H133.3 V20.3 H298.8 V22.5 H312.3 V24.6 H337.2 V26.9 H341.2 V29.0 H396.9 V33.1 H445.4 V48.7 H447.8" fill="none" stroke="#2a5c58" stroke-width="1.2"/>
<path d="M96.0 16.4 v2.6M101.0 16.4 v2.6M107.0 16.4 v2.6M113.0 16.4 v2.6M118.0 16.4 v2.6M124.0 16.4 v2.6M129.0 16.4 v2.6M149.0 19.0 v2.6M229.0 19.0 v2.6M283.5 19.0 v2.6M330.0 23.3 v2.6M367.0 27.7 v2.6M375.0 27.7 v2.6M384.0 27.7 v2.6M400.0 31.8 v2.6M405.0 31.8 v2.6M413.0 31.8 v2.6M418.0 31.8 v2.6M428.0 31.8 v2.6M436.0 31.8 v2.6M440.0 31.8 v2.6M445.4 47.4 v2.6M447.5 47.4 v2.6" stroke="#2a5c58" stroke-width="0.9" fill="none"/>
</g>
<g transform="translate(0,544.4)">
<text x="74.3" y="139.3" text-anchor="end" font-size="8.05" class="t" fill="#222">Number at risk</text>
<text x="74.3" y="151.6" text-anchor="end" font-size="8.05" class="t" fill="#222" word-spacing="0.8">A + O</text>
<text x="92.80" y="151.6" text-anchor="middle" font-size="8.05" class="t" fill="#222">23</text>
<text x="122.29" y="151.6" text-anchor="middle" font-size="8.05" class="t" fill="#222">21</text>
<text x="151.79" y="151.6" text-anchor="middle" font-size="8.05" class="t" fill="#222">20</text>
<text x="181.28" y="151.6" text-anchor="middle" font-size="8.05" class="t" fill="#222">20</text>
<text x="210.78" y="151.6" text-anchor="middle" font-size="8.05" class="t" fill="#222">20</text>
<text x="240.27" y="151.6" text-anchor="middle" font-size="8.05" class="t" fill="#222">20</text>
<text x="269.76" y="151.6" text-anchor="middle" font-size="8.05" class="t" fill="#222">20</text>
<text x="299.26" y="151.6" text-anchor="middle" font-size="8.05" class="t" fill="#222">19</text>
<text x="328.75" y="151.6" text-anchor="middle" font-size="8.05" class="t" fill="#222">19</text>
<text x="358.25" y="151.6" text-anchor="middle" font-size="8.05" class="t" fill="#222">18</text>
<text x="387.74" y="151.6" text-anchor="middle" font-size="8.05" class="t" fill="#222">14</text>
<text x="417.23" y="151.6" text-anchor="middle" font-size="8.05" class="t" fill="#222">7</text>
<text x="446.73" y="151.6" text-anchor="middle" font-size="8.05" class="t" fill="#222">0</text>
<text x="476.22" y="151.6" text-anchor="middle" font-size="8.05" class="t" fill="#222">0</text>
<text x="505.72" y="151.6" text-anchor="middle" font-size="8.05" class="t" fill="#222">0</text>
<text x="74.3" y="164.0" text-anchor="end" font-size="8.05" class="t" fill="#222">A</text>
<text x="92.80" y="164.0" text-anchor="middle" font-size="8.05" class="t" fill="#222">26</text>
<text x="122.29" y="164.0" text-anchor="middle" font-size="8.05" class="t" fill="#222">23</text>
<text x="151.79" y="164.0" text-anchor="middle" font-size="8.05" class="t" fill="#222">21</text>
<text x="181.28" y="164.0" text-anchor="middle" font-size="8.05" class="t" fill="#222">21</text>
<text x="210.78" y="164.0" text-anchor="middle" font-size="8.05" class="t" fill="#222">21</text>
<text x="240.27" y="164.0" text-anchor="middle" font-size="8.05" class="t" fill="#222">20</text>
<text x="269.76" y="164.0" text-anchor="middle" font-size="8.05" class="t" fill="#222">20</text>
<text x="299.26" y="164.0" text-anchor="middle" font-size="8.05" class="t" fill="#222">20</text>
<text x="328.75" y="164.0" text-anchor="middle" font-size="8.05" class="t" fill="#222">18</text>
<text x="358.25" y="164.0" text-anchor="middle" font-size="8.05" class="t" fill="#222">16</text>
<text x="387.74" y="164.0" text-anchor="middle" font-size="8.05" class="t" fill="#222">8</text>
<text x="417.23" y="164.0" text-anchor="middle" font-size="8.05" class="t" fill="#222">6</text>
<text x="446.73" y="164.0" text-anchor="middle" font-size="8.05" class="t" fill="#222">0</text>
<text x="476.22" y="164.0" text-anchor="middle" font-size="8.05" class="t" fill="#222">0</text>
<text x="505.72" y="164.0" text-anchor="middle" font-size="8.05" class="t" fill="#222">0</text>
<text x="74.3" y="176.5" text-anchor="end" font-size="8.05" class="t" fill="#222">A-based combined</text>
<text x="92.80" y="176.5" text-anchor="middle" font-size="8.05" class="t" fill="#222">49</text>
<text x="122.29" y="176.5" text-anchor="middle" font-size="8.05" class="t" fill="#222">44</text>
<text x="151.79" y="176.5" text-anchor="middle" font-size="8.05" class="t" fill="#222">41</text>
<text x="181.28" y="176.5" text-anchor="middle" font-size="8.05" class="t" fill="#222">41</text>
<text x="210.78" y="176.5" text-anchor="middle" font-size="8.05" class="t" fill="#222">41</text>
<text x="240.27" y="176.5" text-anchor="middle" font-size="8.05" class="t" fill="#222">40</text>
<text x="269.76" y="176.5" text-anchor="middle" font-size="8.05" class="t" fill="#222">40</text>
<text x="299.26" y="176.5" text-anchor="middle" font-size="8.05" class="t" fill="#222">39</text>
<text x="328.75" y="176.5" text-anchor="middle" font-size="8.05" class="t" fill="#222">37</text>
<text x="358.25" y="176.5" text-anchor="middle" font-size="8.05" class="t" fill="#222">34</text>
<text x="387.74" y="176.5" text-anchor="middle" font-size="8.05" class="t" fill="#222">22</text>
<text x="417.23" y="176.5" text-anchor="middle" font-size="8.05" class="t" fill="#222">13</text>
<text x="446.73" y="176.5" text-anchor="middle" font-size="8.05" class="t" fill="#222">0</text>
<text x="476.22" y="176.5" text-anchor="middle" font-size="8.05" class="t" fill="#222">0</text>
<text x="505.72" y="176.5" text-anchor="middle" font-size="8.05" class="t" fill="#222">0</text>
</g>
<rect x="0.5" y="0.5" width="519" height="729" fill="none" stroke="#555" stroke-width="1"/>
</svg>
</body></html>
